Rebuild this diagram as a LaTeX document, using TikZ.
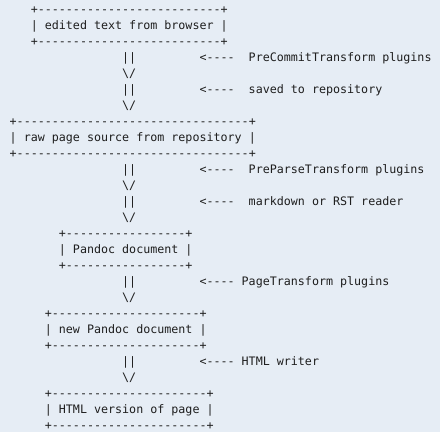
\documentclass[tikz,border=0pt]{standalone}
\usepackage{fontspec}
\setmonofont{DejaVu Sans Mono}
\usepackage{tikz}

\definecolor{pagebg}{RGB}{230,237,245}
\definecolor{ink}{RGB}{30,30,30}

\newcommand\dashrun[1]{\foreach \k in {1,...,#1}{-}}

\begin{document}
\begin{tikzpicture}[x=7.03pt, y=-16pt,
    ascii/.style={anchor=base west, inner sep=0pt, outer sep=0pt, text=ink,
      font=\ttfamily\fontsize{11.68pt}{16pt}\selectfont}]
  \useasboundingbox[fill=pagebg] (-9.7pt,13pt) rectangle (430.3pt,-419pt);

  % Boxes: name/column/row/dashes/label
  \foreach \name/\c/\r/\w/\label in {
      browser/3/0/26/edited text from browser,
      rawsrc/0/7/33/raw page source from repository,
      pandoc/7/14/17/Pandoc document,
      newpandoc/5/19/21/new Pandoc document,
      html/5/24/22/HTML version of page} {
    \node[ascii] (\name-top) at (\c,\r) {+\dashrun{\w}+};
    \node[ascii] (\name) at (\c,\r+1) {| \label\ |};
    \node[ascii] (\name-bot) at (\c,\r+2) {+\dashrun{\w}+};
  }

  % Arrows between the boxes
  \foreach \r in {3,5,10,12,17,22} {
    \node[ascii] (shaft-\r) at (16,\r) {||};
    \node[ascii] (head-\r) at (16,\r+1) {\textbackslash/};
  }

  % Side notes: row/column/text
  \foreach \r/\c/\note in {
      3/34/PreCommitTransform plugins,
      5/34/saved to repository,
      10/34/PreParseTransform plugins,
      12/34/markdown or RST reader,
      17/33/PageTransform plugins,
      22/33/HTML writer} {
    \node[ascii] (pointer-\r) at (27,\r) {<----};
    \node[ascii] (note-\r) at (\c,\r) {\note};
  }
\end{tikzpicture}
\end{document}
